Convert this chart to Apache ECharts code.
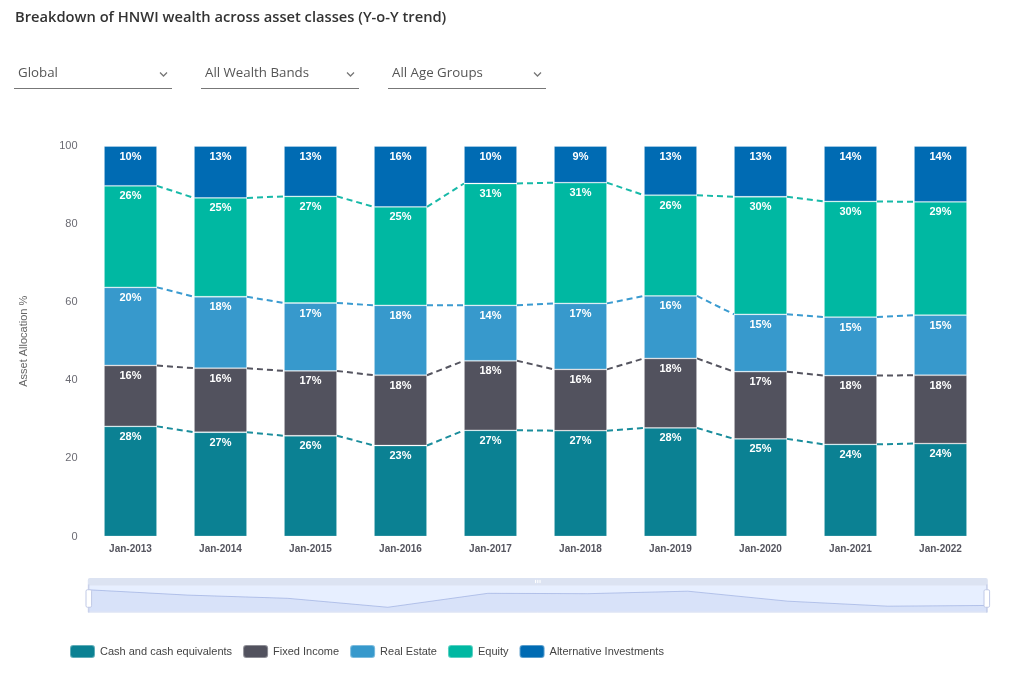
<!DOCTYPE html>
<html>
<head>
<meta charset="utf-8">
<script src="https://cdn.jsdelivr.net/npm/echarts@6/dist/echarts.min.js"></script>
<style>
html,body{margin:0;padding:0;background:#fff;}
#chart{width:1024px;height:683px;}
</style>
</head>
<body>
<div id="chart"></div>
<script>
var categories = ['Jan-2013','Jan-2014','Jan-2015','Jan-2016','Jan-2017','Jan-2018','Jan-2019','Jan-2020','Jan-2021','Jan-2022'];
var cash      = [28.2, 26.7, 25.8, 23.3, 27.2, 27.1, 27.8, 25.0, 23.6, 23.8];
var fixedInc  = [15.6, 16.4, 16.6, 18.0, 17.8, 15.7, 17.8, 17.2, 17.6, 17.5];
var realEst   = [20.0, 18.3, 17.4, 17.9, 14.2, 16.9, 16.0, 14.7, 15.0, 15.4];
var equity    = [26.0, 25.3, 27.3, 25.2, 31.2, 30.9, 25.8, 30.1, 29.6, 29.0];
var altInv    = [10.2, 13.3, 12.9, 15.6,  9.6,  9.4, 12.6, 13.0, 14.2, 14.3];
var seriesNames = ['Cash and cash equivalents','Fixed Income','Real Estate','Equity','Alternative Investments'];
var yTicks = [0, 20, 40, 60, 80, 100];
var filters = ['Global','All Wealth Bands','All Age Groups'];

var colors = ['#0b8193','#52525e','#3799cc','#00b8a2','#006bb3'];
var lineColors = ['#1a8d9c','#555560','#3a9bd0','#17b9a8'];
var BAR_W = 53;

var valueSets = [cash, fixedInc, realEst, equity, altInv];

function cumulative(level){
  return categories.map(function(_, i){
    var s = 0;
    for (var k = 0; k <= level; k++) s += valueSets[k][i];
    return s;
  });
}

var series = [];
valueSets.forEach(function(vals, k){
  series.push({
    name: seriesNames[k],
    type: 'bar',
    stack: 'total',
    barWidth: BAR_W,
    z: 3,
    itemStyle: {color: colors[k], borderColor: 'rgba(255,255,255,0.35)', borderWidth: 0.8},
    label: {
      show: true,
      position: 'insideTop',
      distance: 5,
      color: '#fff',
      fontSize: 11,
      fontWeight: 'bold',
      fontFamily: 'Liberation Sans, Arial, sans-serif',
      formatter: function(p){ return Math.round(p.value) + '%'; }
    },
    emphasis: {disabled: true},
    data: vals
  });
});

for (var lvl = 0; lvl < 4; lvl++) {
  (function(level){
    var tops = cumulative(level);
    var segs = [];
    for (var i = 0; i < tops.length - 1; i++) segs.push([i, tops[i], tops[i+1]]);
    series.push({
      type: 'custom',
      name: 'conn' + level,
      z: 2,
      silent: true,
      legendHoverLink: false,
      encode: {x: 0, y: 1},
      data: segs,
      renderItem: function(params, api){
        var i = api.value(0);
        var p1 = api.coord([i, api.value(1)]);
        var p2 = api.coord([i + 1, api.value(2)]);
        return {
          type: 'line',
          shape: {x1: p1[0] + BAR_W/2, y1: p1[1], x2: p2[0] - BAR_W/2, y2: p2[1]},
          style: {stroke: lineColors[level], lineWidth: 2, lineDash: [6, 4]}
        };
      }
    });
  })(lvl);
}

var ddX = [14, 201, 388];
var graphics = [];
filters.forEach(function(t, i){
  var x = ddX[i];
  graphics.push({type:'text', left: x + 4, top: 67, style:{text: t, fill:'#555', font:'13.3px "Open Sans", sans-serif'}});
  graphics.push({type:'line', shape:{x1:x, y1:88.5, x2:x+158, y2:88.5}, style:{stroke:'#777', lineWidth:1}});
  graphics.push({type:'polyline', shape:{points:[[x+146,72.5],[x+149.5,76],[x+153,72.5]]}, style:{stroke:'#777', lineWidth:1.3, fill:null}});
});

var chart = echarts.init(document.getElementById('chart'));
chart.setOption({
  animation: false,
  title: {
    text: 'Breakdown of HNWI wealth across asset classes (Y-o-Y trend)',
    left: 10, top: 5,
    textStyle: {fontSize: 14.7, fontWeight: 600, color: '#333', fontFamily: '"Open Sans", sans-serif'}
  },
  graphic: graphics,
  grid: {left: 85.5, right: 38.5, top: 146, bottom: 146.5},
  legend: {
    data: seriesNames,
    left: 64, bottom: 19,
    itemWidth: 25, itemHeight: 13,
    itemGap: 10,
    icon: 'roundRect',
    textStyle: {fontSize: 11, color: '#444', fontFamily: 'Liberation Sans, Arial, sans-serif'}
  },
  xAxis: {
    type: 'category',
    data: categories,
    axisLine: {show: false},
    axisTick: {show: false},
    axisLabel: {margin: 8, fontSize: 10, fontWeight: 'bold', color: '#55555f', fontFamily: 'Liberation Sans, Arial, sans-serif'}
  },
  yAxis: {
    type: 'value',
    min: yTicks[0], max: yTicks[yTicks.length-1], interval: yTicks[1]-yTicks[0],
    name: 'Asset Allocation %',
    nameLocation: 'middle',
    nameGap: 56,
    nameTextStyle: {fontSize: 11, color: '#666', fontFamily: 'Liberation Sans, Arial, sans-serif'},
    axisLine: {show: false},
    axisTick: {show: false},
    splitLine: {show: false},
    axisLabel: {margin: 8, fontSize: 11, color: '#6b6b73', fontFamily: 'Liberation Sans, Arial, sans-serif'}
  },
  dataZoom: [{
    type: 'slider',
    xAxisIndex: 0,
    left: 85, right: 39,
    bottom: 77, height: 28,
    showDetail: false,
    moveHandleStyle: {color: '#dce3f2', opacity: 1},
    start: 0, end: 100
  }],
  series: series
});
</script>
</body>
</html>
